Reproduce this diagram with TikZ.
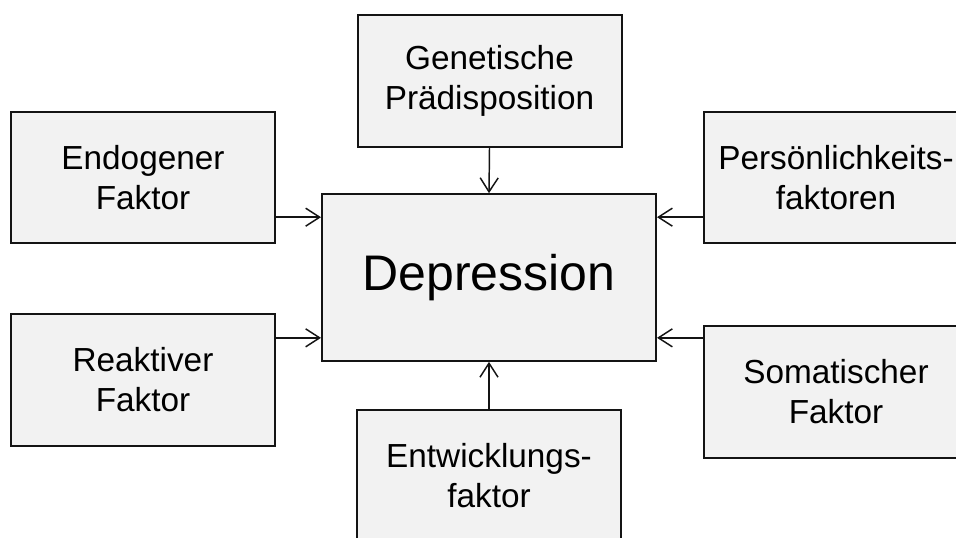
\documentclass[tikz,border=0pt]{standalone}
\usepackage{fontspec}
\setmainfont{Liberation Sans}
\usetikzlibrary{positioning,calc,arrows.meta}
\definecolor{boxfill}{RGB}{242,242,242}
\definecolor{boxline}{RGB}{20,20,20}

\tikzset{
  factorbox/.style={draw=boxline, fill=boxfill, line width=1.5pt, align=center,
    minimum width=198pt, minimum height=98.5pt, inner sep=0pt,
    font=\fontsize{25}{30}\selectfont},
  centerbox/.style={factorbox, minimum width=250.5pt, minimum height=125pt,
    font=\fontsize{37.5}{45}\selectfont},
  influence/.style={draw=boxline, line width=1.1pt,
    -{Straight Barb[length=10.5pt,width=13.5pt,line width=1.1pt]}}
}

\begin{document}
\begin{tikzpicture}[x=0.75pt,y=-0.75pt]
\useasboundingbox (0,0) rectangle (956,537);
\clip (0,0) rectangle (956,537);
\fill[white] (0,0) rectangle (956,537);

% central node
\node[centerbox] (dep) at (489,277.5) {Depression};

% factors
\node[factorbox] (gen)  at (489.5,81) {Genetische\\Prädisposition};
\node[factorbox] (endo) at (143,177.5) {Endogener\\Faktor};
\node[factorbox] (pers) at (836,177.5) {Persönlichkeits-\\faktoren};
\node[factorbox] (reak) at (143,380) {Reaktiver\\Faktor};
\node[factorbox] (soma) at (836,392) {Somatischer\\Faktor};
\node[factorbox] (entw) at (489,476) {Entwicklungs-\\faktor};

% arrow heights on the central box
\coordinate (dnw) at ([yshift=-18pt]dep.north west);
\coordinate (dne) at ([yshift=-18pt]dep.north east);
\coordinate (dsw) at ([yshift=18pt]dep.south west);
\coordinate (dse) at ([yshift=18pt]dep.south east);

\draw[influence] (gen.south) -- (dep.north);
\draw[influence] (entw.north) -- (dep.south);
\draw[influence] (endo.east |- dnw) -- (dnw);
\draw[influence] (pers.west |- dne) -- (dne);
\draw[influence] (reak.east |- dsw) -- (dsw);
\draw[influence] (soma.west |- dse) -- (dse);
\end{tikzpicture}
\end{document}
